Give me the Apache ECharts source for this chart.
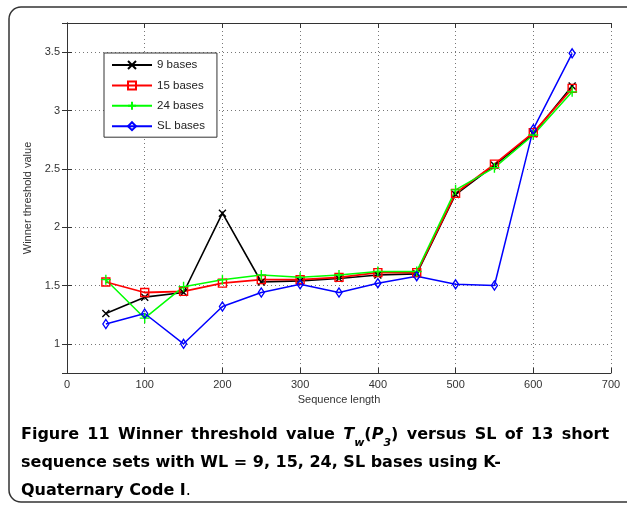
<!DOCTYPE html>
<html>
<head>
<meta charset="utf-8">
<script src="https://cdn.jsdelivr.net/npm/echarts@6/dist/echarts.min.js"></script>
<style>
html,body{margin:0;padding:0;background:#fff;}
#chart{width:627px;height:507px;}
</style>
</head>
<body>
<div id="chart"></div>
<script>
// Data
var sequenceLengths = [50, 100, 150, 200, 250, 300, 350, 400, 450, 500, 550, 600, 650];
var bases9  = [1.26, 1.40, 1.44, 2.12, 1.53, 1.54, 1.56, 1.59, 1.60, 2.28, 2.53, 2.80, 3.21];
var bases15 = [1.53, 1.44, 1.45, 1.52, 1.55, 1.55, 1.57, 1.61, 1.61, 2.29, 2.54, 2.81, 3.19];
var bases24 = [1.55, 1.22, 1.49, 1.55, 1.59, 1.57, 1.59, 1.62, 1.62, 2.32, 2.51, 2.79, 3.16];
var basesSL = [1.17, 1.26, 1.00, 1.32, 1.44, 1.51, 1.44, 1.52, 1.58, 1.51, 1.50, 2.84, 3.49];
var seriesNames = ['9 bases', '15 bases', '24 bases', 'SL bases'];
var xTicks = [0, 100, 200, 300, 400, 500, 600, 700];
var yTickLabels = [1, 1.5, 2, 2.5, 3, 3.5];

function pairs(xs, ys) { return xs.map(function (x, i) { return [x, ys[i]]; }); }

var chart = echarts.init(document.getElementById('chart'), null, {renderer: 'canvas'});
var axisFont = 'Liberation Sans, Arial, sans-serif';
var capFont = 'DejaVu Sans, Open Sans, sans-serif';
var capSize = 16;

function lineSeries(name, values, color, symbol, size, lw) {
  return {
    name: name,
    type: 'line',
    data: pairs(sequenceLengths, values),
    symbol: symbol,
    symbolSize: size,
    showAllSymbol: true,
    lineStyle: {color: color, width: lw},
    itemStyle: {color: 'rgba(0,0,0,0)', borderColor: color, borderWidth: 1.4},
    emphasis: {disabled: true},
    animation: false
  };
}

// caption line 1 (justified in the reference, so spaces are widened)
var line1 = '{fig|Figure}{s| }{fig|11}{s| }' +
  ['Winner', 'threshold', 'value'].map(function (w) { return '{b|' + w + '}'; }).join('{s| }') +
  '{s| }{i|T}{sub|w}{b|(}{i|P}{sub|3}{b|)}{s| }' +
  ['versus', 'SL', 'of', '13', 'short'].map(function (w) { return '{b|' + w + '}'; }).join('{s| }');

var option = {
  animation: false,
  backgroundColor: '#fff',
  grid: {left: 67, right: 16, top: 23, bottom: 134, containLabel: false},
  legend: {
    data: seriesNames,
    orient: 'vertical',
    left: 104,
    top: 53,
    itemWidth: 40,
    itemHeight: 10,
    itemGap: 8.4,
    padding: [6, 12, 5, 7],
    borderColor: '#333',
    borderWidth: 1,
    backgroundColor: '#fff',
    textStyle: {fontFamily: axisFont, fontSize: 11.5, color: '#222', padding: [0, 0, 0, 0]},
    selectedMode: false
  },
  xAxis: [{
    type: 'value',
    min: 0, max: 700, interval: 100,
    name: 'Sequence length',
    nameLocation: 'middle',
    nameGap: 18,
    nameTextStyle: {fontFamily: axisFont, fontSize: 11, color: '#333'},
    axisLine: {show: true, lineStyle: {color: '#333', width: 1}},
    axisTick: {show: true, inside: true, length: 5, lineStyle: {color: '#333'}},
    axisLabel: {fontFamily: axisFont, fontSize: 11, color: '#333', margin: 6,
      formatter: function (v) { return xTicks.indexOf(v) >= 0 ? String(v) : ''; }},
    splitLine: {show: true, lineStyle: {color: '#777', type: [1, 3], width: 1}}
  }, {
    type: 'value', position: 'top',
    min: 0, max: 700, interval: 100,
    axisLine: {show: true, lineStyle: {color: '#333', width: 1}},
    axisTick: {show: true, inside: true, length: 5, lineStyle: {color: '#333'}},
    axisLabel: {show: false},
    splitLine: {show: false}
  }],
  yAxis: [{
    type: 'value',
    min: 0.75, max: 3.75, splitNumber: 6,
    name: 'Winner threshold value',
    nameLocation: 'middle',
    nameGap: 28,
    nameTextStyle: {fontFamily: axisFont, fontSize: 11, color: '#333'},
    axisLine: {show: true, lineStyle: {color: '#333', width: 1}},
    axisTick: {show: true, inside: true, length: 5, lineStyle: {color: '#333'}},
    axisLabel: {fontFamily: axisFont, fontSize: 11, color: '#333', margin: 7,
      formatter: function (v) {
        for (var i = 0; i < yTickLabels.length; i++) {
          if (Math.abs(yTickLabels[i] - v) < 1e-6) return String(yTickLabels[i]);
        }
        return '';
      }},
    splitLine: {show: true, lineStyle: {color: '#777', type: [1, 3], width: 1}}
  }, {
    type: 'value', position: 'right',
    min: 0.75, max: 3.75, splitNumber: 6,
    axisLine: {show: true, lineStyle: {color: '#333', width: 1}},
    axisTick: {show: true, inside: true, length: 5, lineStyle: {color: '#333'}},
    axisLabel: {show: false},
    splitLine: {show: false}
  }],
  series: [
    lineSeries(seriesNames[0], bases9, '#000000', 'path://M0,0L10,10M10,0L0,10', 7, 1.6),
    lineSeries(seriesNames[1], bases15, '#ff0000', 'rect', 8, 1.8),
    lineSeries(seriesNames[2], bases24, '#00ff00', 'path://M5,0L5,10M0,5L10,5', 10, 1.5),
    lineSeries(seriesNames[3], basesSL, '#0000ff', 'diamond', [6, 9], 1.5)
  ],
  graphic: [
    {
      type: 'rect',
      shape: {x: 9, y: 7, width: 640, height: 495, r: 12},
      style: {fill: 'none', stroke: '#333', lineWidth: 1.5},
      silent: true, z: -10
    },
    {
      type: 'text',
      left: 21, top: 423,
      style: {
        text: line1 + '\n' +
              '{b|sequence sets with WL = 9, 15, 24, SL bases using K-}\n' +
              '{b|Quaternary Code I}{n|.}',
        rich: {
          fig: {fontFamily: capFont, fontWeight: 'bold', fontSize: capSize, color: '#111', lineHeight: 28},
          b: {fontFamily: capFont, fontWeight: 'bold', fontSize: capSize, color: '#2a2a2a', lineHeight: 28},
          s: {fontFamily: capFont, fontWeight: 'bold', fontSize: 24, color: '#2a2a2a', lineHeight: 28},
          i: {fontFamily: capFont, fontWeight: 'bold', fontStyle: 'italic', fontSize: capSize, color: '#2a2a2a', lineHeight: 28},
          sub: {fontFamily: capFont, fontWeight: 'bold', fontStyle: 'italic', fontSize: 11, color: '#2a2a2a', lineHeight: 18, verticalAlign: 'bottom'},
          n: {fontFamily: capFont, fontWeight: 'normal', fontSize: capSize, color: '#2a2a2a', lineHeight: 28}
        }
      },
      silent: true
    }
  ]
};
chart.setOption(option);
</script>
</body>
</html>
